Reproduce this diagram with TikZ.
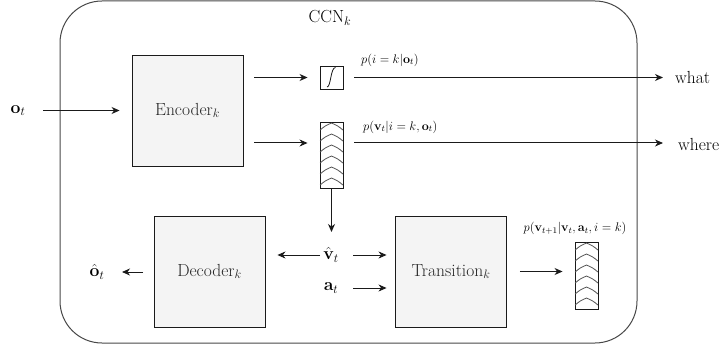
\RequirePackage{fix-cm}
\documentclass[tikz,border=0pt]{standalone}
\usetikzlibrary{arrows.meta,calc}
\definecolor{boxfill}{HTML}{F4F4F4}
\definecolor{ink}{HTML}{1A1A1A}
\begin{document}
\begin{tikzpicture}[x=1pt,y=-1pt,
  big/.style={font=\fontsize{17.5}{21}\selectfont, text=black, inner sep=0pt},
  lab/.style={font=\fontsize{12.5}{15}\selectfont, text=black, inner sep=0pt},
  blk/.style={draw=ink, line width=0.9pt, fill=boxfill, minimum width=111pt, minimum height=111pt, inner sep=0pt, font=\fontsize{17.5}{21}\selectfont, text=black!85},
  vec/.style={draw=ink, line width=0.9pt, fill=white, minimum width=23pt, inner sep=0pt},
  arr/.style={draw=ink, line width=1pt, -{Stealth[length=8pt,width=7pt,inset=2.5pt]}},
  chev/.style={draw=ink!75, line width=0.8pt},
]
\useasboundingbox (0,0) rectangle (723,350);
\node[draw=ink!80, line width=1pt, rounded corners=42pt, minimum width=577pt, minimum height=342pt, inner sep=0pt] (ccnbox) at (348.5,172) {};
\node[big] (ccn) at (330,18) {CCN$_k$};
\node[blk] (enc) at (187.5,110.5) {Encoder$_k$};
\node[blk] (dec) at (209.5,271.5) {Decoder$_k$};
\node[blk] (tra) at (451,271.5) {Transition$_k$};
\node[vec, minimum height=23pt] (sig) at (331.5,77.5) {};
\node[vec, minimum height=66pt] (chv1) at (331.5,155) {};
\node[vec, minimum height=67pt] (chv2) at (586.5,275.5) {};
\node[big] (ot) at (18,110.5) {$\mathbf{o}_t$};
\node[big, anchor=west] (what) at (675,77) {what};
\node[big, anchor=west] (where) at (678,144) {where};
\node[big] (vhat) at (331,255) {$\hat{\mathbf{v}}_t$};
\node[big] (act) at (331,288) {$\mathbf{a}_t$};
\node[big] (ohat) at (97,272) {$\hat{\mathbf{o}}_t$};
\node[lab, anchor=west] (l1) at (361,60) {$p(i=k|\mathbf{o}_t)$};
\node[lab, anchor=west] (l2) at (363,127) {$p(\mathbf{v}_t|i=k,\mathbf{o}_t)$};
\node[lab] (l3) at (575,228) {$p(\mathbf{v}_{t+1}|\mathbf{v}_t,\mathbf{a}_t,i=k)$};
\coordinate (c1) at ([yshift=12pt]chv1.west);
% sigmoid
\draw[ink, line width=0.8pt] ($(sig.center)+(-4.5,9.5)$) .. controls ($(sig.center)+(-0.5,9.5)$) and ($(sig.center)+(-1,-10)$) .. ($(sig.center)+(4,-10)$);
% chevrons
\foreach \n in {chv1,chv2}{
  \foreach \i in {0,...,5}{
    \draw[chev] ($(\n.north west)+(0.5,11*\i+8.5)$) to[bend left=10] ($(\n.north)+(0,11*\i+1.5)$) to[bend left=10] ($(\n.north east)+(-0.5,11*\i+8.5)$);
  }
}
% connectors
\draw[arr, shorten <=25pt, shorten >=12pt] (ot.center) -- (enc.west);
\draw[arr, shorten <=11pt, shorten >=12pt] (enc.east |- sig.west) -- (sig.west);
\draw[arr, shorten <=11pt, shorten >=12pt] (enc.east |- c1) -- (c1);
\draw[arr, shorten <=11pt, shorten >=12pt] (sig.east) -- (sig.east -| what.west);
\draw[arr, shorten <=11pt, shorten >=15pt] (c1 -| chv1.east) -- (c1 -| where.west);
\draw[arr, shorten >=23pt] (chv1.south) -- (chv1.south |- vhat.center);
\draw[arr, shorten <=11pt, shorten >=12pt] (vhat.center) -- (vhat.center -| dec.east);
\draw[arr, shorten <=22pt, shorten >=8.5pt] (vhat.center) -- (vhat.center -| tra.west);
\draw[arr, shorten <=22pt, shorten >=8.5pt] (act.center) -- (act.center -| tra.west);
\draw[arr, shorten <=10.5pt, shorten >=25pt] (dec.west |- ohat.center) -- (ohat.center);
\draw[arr, shorten <=13pt, shorten >=12pt] (tra.east) -- (tra.east -| chv2.west);
\end{tikzpicture}
\end{document}
